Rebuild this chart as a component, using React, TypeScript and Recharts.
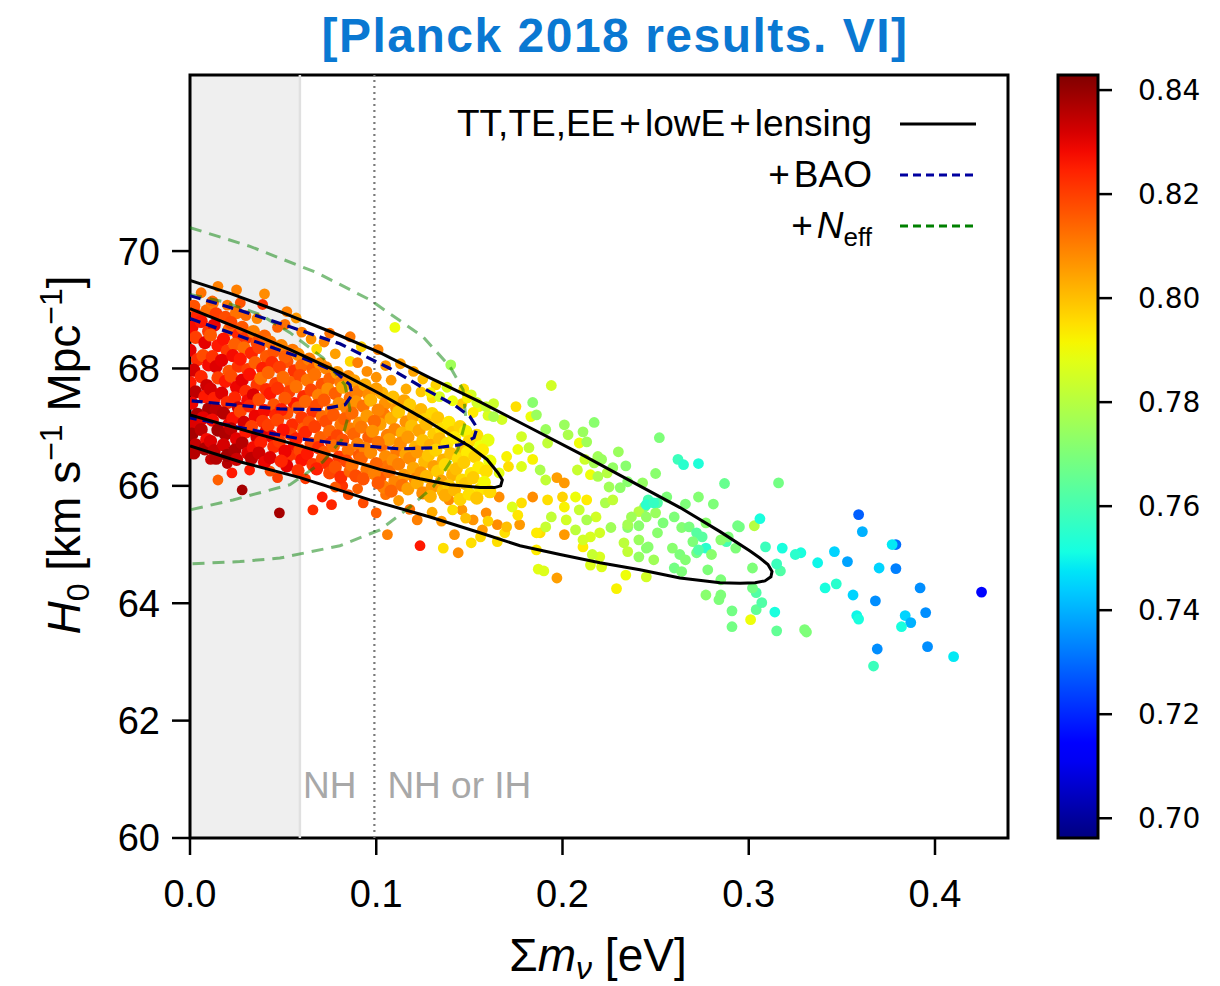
import React from "react";
import { ComposedChart, Scatter, XAxis, YAxis, ReferenceArea, ReferenceLine, Legend } from "recharts";

type Pt = [number, number, number]; // [sum m_nu, H0, sigma8]

const FONT = "'Liberation Sans', Arial, sans-serif";

const xTicks = [0, 0.1, 0.2, 0.3, 0.4];
const yTicks = [60, 62, 64, 66, 68, 70];
const cbTicks = [0.7, 0.72, 0.74, 0.76, 0.78, 0.8, 0.82, 0.84];
const X_MAX = 0.4392;
const S8_MIN = 0.6962;
const S8_MAX = 0.8429;
const nhMin = 0.059;
const ihMin = 0.099;

// samples, coloured by sigma8
const coreLeft: Pt[] = [
  [0.002,69.06,0.817],[0.004,68.9,0.824],[0.001,68.7,0.828],[0.003,68.53,0.82],[0.0,68.31,0.83],[0.004,68.15,0.823],[0.002,67.97,0.832],[0.0,67.76,0.826],[0.003,67.6,0.835],[0.001,67.41,0.829],[0.004,67.22,0.837],[0.002,67.07,0.831],[0.001,66.88,0.838],[0.003,66.7,0.834],[0.002,66.56,0.836],
  [0.009,68.98,0.813],[0.006,68.8,0.826],[0.01,68.63,0.821],[0.008,68.44,0.83],[0.007,68.22,0.818],[0.01,68.06,0.828],[0.006,67.86,0.824],[0.009,67.71,0.833],[0.008,67.52,0.826],[0.01,67.31,0.837],[0.007,67.16,0.83],[0.006,66.96,0.835],[0.009,66.79,0.828],[0.008,66.63,0.837],
  [0.012,69.12,0.811],[0.014,68.93,0.82],[0.013,68.74,0.829],[0.011,68.57,0.816],[0.015,68.39,0.826],[0.012,68.2,0.822],[0.014,68.03,0.831],[0.015,67.84,0.82],[0.011,67.65,0.832],[0.013,67.49,0.825],[0.014,67.3,0.835],[0.012,67.12,0.828],[0.015,66.95,0.838],[0.011,66.76,0.831],[0.013,66.6,0.834],[0.014,66.47,0.836],
  [0.019,68.87,0.818],[0.021,68.66,0.813],[0.018,68.5,0.827],[0.02,68.3,0.821],[0.017,68.14,0.83],[0.021,67.95,0.817],[0.019,67.78,0.826],[0.017,67.58,0.831],[0.02,67.42,0.823],[0.018,67.24,0.836],[0.021,67.05,0.829],[0.019,66.88,0.837],[0.018,66.7,0.832],[0.02,66.52,0.838],
  [0.025,68.95,0.812],[0.022,68.78,0.819],[0.026,68.58,0.824],[0.024,68.41,0.815],[0.023,68.22,0.828],[0.026,68.04,0.822],[0.022,67.87,0.818],[0.025,67.68,0.829],[0.024,67.5,0.824],[0.026,67.33,0.833],[0.023,67.15,0.827],[0.022,66.97,0.835],[0.025,66.8,0.83],[0.024,66.61,0.837],[0.025,66.45,0.833],
  [0.028,68.7,0.816],[0.03,68.52,0.822],[0.029,68.35,0.813],[0.027,68.16,0.826],[0.031,67.98,0.82],[0.028,67.8,0.83],[0.03,67.61,0.823],[0.031,67.45,0.828],[0.027,67.27,0.819],[0.029,67.08,0.832],[0.03,66.92,0.826],[0.028,66.73,0.836],[0.031,66.56,0.831],
  [0.034,68.63,0.81],[0.036,68.44,0.818],[0.033,68.26,0.824],[0.035,68.1,0.815],[0.032,67.9,0.827],[0.036,67.72,0.821],[0.034,67.55,0.831],[0.032,67.36,0.824],[0.035,67.19,0.829],[0.033,67.01,0.82],[0.036,66.83,0.833],[0.034,66.65,0.828],[0.033,66.47,0.835],
  [0.04,68.55,0.814],[0.037,68.36,0.82],[0.041,68.2,0.816],[0.039,68.0,0.825],[0.038,67.83,0.812],[0.041,67.64,0.823],[0.037,67.47,0.818],[0.04,67.28,0.828],[0.039,67.1,0.822],[0.041,66.93,0.831],[0.038,66.74,0.825],[0.037,66.56,0.833],[0.04,66.4,0.829],
  [0.043,68.45,0.812],[0.045,68.29,0.817],[0.044,68.1,0.823],[0.042,67.93,0.814],[0.046,67.74,0.82],[0.043,67.57,0.826],[0.045,67.38,0.817],[0.046,67.2,0.824],[0.042,67.03,0.82],[0.044,66.84,0.829],[0.045,66.67,0.823],[0.043,66.48,0.831],
  [0.049,68.39,0.809],[0.051,68.2,0.815],[0.048,68.02,0.82],[0.05,67.85,0.813],[0.047,67.66,0.822],[0.051,67.49,0.816],[0.049,67.3,0.825],[0.047,67.12,0.819],[0.05,66.95,0.827],[0.048,66.76,0.821],[0.051,66.59,0.829],[0.049,66.42,0.824],
];

const coreMid: Pt[] = [
  [0.055,68.31,0.811],[0.052,68.12,0.817],[0.056,67.96,0.822],[0.054,67.76,0.814],[0.053,67.6,0.82],[0.056,67.4,0.826],[0.052,67.24,0.817],[0.055,67.04,0.823],[0.054,66.88,0.819],[0.056,66.68,0.828],[0.053,66.52,0.822],[0.052,66.34,0.83],
  [0.058,68.24,0.808],[0.06,68.05,0.814],[0.059,67.88,0.819],[0.057,67.69,0.812],[0.061,67.52,0.823],[0.058,67.33,0.816],[0.06,67.16,0.821],[0.061,66.97,0.815],[0.057,66.8,0.825],[0.059,66.61,0.819],[0.06,66.44,0.827],[0.058,66.26,0.822],
  [0.064,68.16,0.81],[0.066,67.99,0.815],[0.063,67.8,0.811],[0.065,67.63,0.819],[0.062,67.44,0.814],[0.066,67.27,0.822],[0.064,67.08,0.817],[0.062,66.91,0.824],[0.065,66.72,0.818],[0.063,66.55,0.826],[0.066,66.36,0.821],
  [0.07,68.08,0.807],[0.067,67.9,0.812],[0.071,67.73,0.817],[0.069,67.54,0.81],[0.068,67.37,0.818],[0.071,67.18,0.813],[0.067,67.01,0.82],[0.07,66.82,0.815],[0.069,66.65,0.823],[0.071,66.46,0.817],[0.068,66.29,0.825],
  [0.073,68.01,0.809],[0.075,67.82,0.814],[0.074,67.65,0.808],[0.072,67.46,0.816],[0.076,67.29,0.811],[0.073,67.1,0.818],[0.075,66.93,0.814],[0.076,66.74,0.821],[0.072,66.57,0.816],[0.074,66.38,0.823],[0.075,66.22,0.819],
  [0.079,67.93,0.806],[0.081,67.76,0.811],[0.078,67.57,0.815],[0.08,67.4,0.808],[0.077,67.21,0.816],[0.081,67.04,0.812],[0.079,66.85,0.819],[0.077,66.68,0.813],[0.08,66.49,0.821],[0.078,66.32,0.817],[0.081,66.15,0.823],
  [0.085,67.86,0.808],[0.082,67.68,0.804],[0.086,67.5,0.812],[0.084,67.33,0.809],[0.083,67.14,0.815],[0.086,66.97,0.81],[0.082,66.78,0.817],[0.085,66.61,0.812],[0.084,66.42,0.819],[0.086,66.25,0.814],
  [0.088,67.79,0.805],[0.09,67.6,0.81],[0.089,67.43,0.807],[0.087,67.24,0.813],[0.091,67.07,0.808],[0.088,66.88,0.814],[0.09,66.71,0.81],[0.091,66.52,0.816],[0.087,66.35,0.812],[0.089,66.17,0.818],
  [0.094,67.72,0.803],[0.096,67.55,0.808],[0.093,67.36,0.812],[0.095,67.19,0.806],[0.092,67.0,0.811],[0.096,66.83,0.815],[0.094,66.64,0.809],[0.092,66.47,0.814],[0.095,66.28,0.811],[0.093,66.12,0.817],
  [0.1,67.65,0.805],[0.097,67.46,0.802],[0.101,67.29,0.809],[0.099,67.1,0.813],[0.098,66.93,0.807],[0.101,66.74,0.812],[0.097,66.57,0.808],[0.1,66.38,0.814],[0.099,66.21,0.81],[0.101,66.05,0.816],
];

const coreRight: Pt[] = [
  [0.103,67.58,0.802],[0.105,67.41,0.807],[0.104,67.22,0.811],[0.102,67.05,0.805],[0.106,66.86,0.81],[0.103,66.69,0.814],[0.105,66.5,0.808],[0.106,66.33,0.812],[0.102,66.14,0.816],[0.104,65.98,0.81],
  [0.109,67.51,0.8],[0.111,67.32,0.806],[0.108,67.15,0.803],[0.11,66.96,0.809],[0.107,66.79,0.805],[0.111,66.6,0.811],[0.109,66.43,0.807],[0.107,66.24,0.813],[0.11,66.07,0.809],[0.108,65.91,0.814],
  [0.115,67.45,0.804],[0.112,67.26,0.799],[0.116,67.09,0.807],[0.114,66.9,0.802],[0.113,66.73,0.808],[0.116,66.54,0.804],[0.112,66.37,0.81],[0.115,66.18,0.806],[0.114,66.01,0.812],
  [0.118,67.38,0.798],[0.12,67.19,0.803],[0.119,67.02,0.8],[0.117,66.83,0.806],[0.121,66.66,0.802],[0.118,66.47,0.808],[0.12,66.3,0.804],[0.121,66.11,0.809],[0.117,65.95,0.805],
  [0.124,67.3,0.801],[0.126,67.13,0.797],[0.123,66.94,0.804],[0.125,66.77,0.8],[0.122,66.58,0.806],[0.126,66.41,0.801],[0.124,66.22,0.807],[0.122,66.05,0.803],[0.125,65.88,0.808],
  [0.13,67.23,0.796],[0.127,67.05,0.801],[0.131,66.88,0.798],[0.129,66.69,0.803],[0.128,66.52,0.799],[0.131,66.33,0.805],[0.127,66.16,0.801],[0.13,65.98,0.806],[0.129,65.82,0.802],
  [0.133,67.16,0.799],[0.135,66.97,0.795],[0.134,66.8,0.801],[0.132,66.61,0.797],[0.136,66.44,0.802],[0.133,66.25,0.798],[0.135,66.08,0.804],[0.136,65.91,0.8],
  [0.139,67.08,0.794],[0.141,66.91,0.798],[0.138,66.72,0.795],[0.14,66.55,0.8],[0.137,66.36,0.796],[0.141,66.19,0.802],[0.139,66.0,0.798],[0.137,65.84,0.803],
  [0.145,67.01,0.797],[0.142,66.82,0.793],[0.146,66.65,0.799],[0.144,66.46,0.795],[0.143,66.29,0.8],[0.146,66.1,0.796],[0.142,65.93,0.801],[0.145,65.77,0.797],
  [0.148,66.93,0.792],[0.15,66.76,0.796],[0.149,66.57,0.793],[0.147,66.4,0.798],[0.151,66.21,0.794],[0.148,66.04,0.799],[0.15,65.86,0.795],
  [0.154,66.86,0.795],[0.156,66.67,0.79],[0.153,66.5,0.797],[0.155,66.31,0.793],[0.152,66.14,0.798],[0.156,65.95,0.794],[0.154,65.79,0.799],
  [0.16,66.78,0.789],[0.157,66.61,0.793],[0.161,66.42,0.79],[0.159,66.25,0.795],[0.158,66.06,0.791],[0.161,65.9,0.796],
];

const upperBand: Pt[] = [
  [0.006,69.29,0.812],[0.025,69.34,0.81],[0.04,69.27,0.808],[0.039,69.09,0.822],[0.012,69.15,0.814],[0.02,69.08,0.811],[0.027,69.12,0.817],[0.03,68.9,0.813],[0.036,68.85,0.809],[0.052,68.97,0.81],
  [0.057,68.86,0.806],[0.051,68.75,0.812],[0.06,68.62,0.81],[0.047,68.7,0.815],[0.065,68.5,0.807],[0.068,68.33,0.796],[0.072,68.45,0.809],[0.078,68.25,0.805],[0.086,68.54,0.811],[0.092,68.37,0.797],
  [0.086,68.12,0.796],[0.101,68.32,0.809],[0.11,68.7,0.79],[0.105,68.05,0.806],[0.113,68.08,0.805],[0.12,67.95,0.804],[0.125,67.82,0.8],[0.14,68.06,0.776],[0.132,67.72,0.797],[0.138,67.68,0.787],
  [0.147,67.65,0.795],[0.151,67.55,0.785],[0.146,67.4,0.798],[0.155,67.35,0.79],[0.16,67.2,0.786],[0.163,67.4,0.784],[0.075,68.6,0.812],[0.015,69.4,0.81],[0.108,67.8,0.806],[0.116,67.65,0.803],
  [0.124,67.6,0.799],[0.13,67.5,0.795],[0.141,67.45,0.79],[0.1,67.85,0.807],[0.095,67.95,0.808],[0.09,68.1,0.81],[0.149,67.5,0.792],[0.154,67.42,0.785],[0.152,67.25,0.793],[0.134,67.52,0.786],
  [0.129,67.59,0.792],[0.159,67.35,0.783],[0.163,67.18,0.778],
];

const lowerScatter: Pt[] = [
  [0.015,66.1,0.815],[0.028,65.93,0.838],[0.048,65.54,0.838],[0.0225,66.22,0.826],[0.032,66.27,0.826],[0.047,66.14,0.82],[0.057,66.53,0.82],[0.066,65.59,0.823],[0.071,65.81,0.826],[0.076,65.68,0.824],
  [0.082,66.0,0.822],[0.09,65.95,0.815],[0.093,65.71,0.818],[0.1,65.54,0.815],[0.106,65.17,0.81],[0.122,65.42,0.81],[0.1235,64.98,0.826],[0.136,64.94,0.795],[0.144,64.86,0.808],[0.151,65.03,0.795],
  [0.142,65.17,0.807],[0.156,65.13,0.796],[0.165,65.05,0.795],[0.186,65.2,0.793],[0.187,64.58,0.788],[0.19,64.55,0.787],[0.197,64.43,0.805],[0.011,66.45,0.834],[0.02,66.38,0.836],[0.043,66.25,0.818],
  [0.062,66.12,0.821],[0.078,65.98,0.816],[0.112,65.75,0.806],[0.118,65.6,0.812],[0.13,65.55,0.803],[0.135,65.4,0.806],[0.148,65.45,0.8],[0.16,65.4,0.797],[0.17,65.3,0.8],[0.176,65.5,0.794],
  [0.105,65.85,0.812],[0.085,65.85,0.818],
];

const yellowBand: Pt[] = [
  [0.1675,67.13,0.785],[0.175,67.35,0.795],[0.178,66.84,0.785],[0.183,67.18,0.79],[0.184,67.42,0.772],[0.186,67.21,0.775],[0.191,66.96,0.775],[0.192,66.73,0.782],[0.194,67.71,0.785],[0.182,66.65,0.782],
  [0.176,66.62,0.79],[0.17,66.5,0.792],[0.166,66.22,0.788],[0.171,66.33,0.795],[0.178,66.33,0.787],[0.184,66.45,0.792],[0.188,66.27,0.778],[0.191,66.1,0.782],[0.197,66.14,0.805],[0.201,66.05,0.806],
  [0.2,65.81,0.797],[0.192,65.76,0.795],[0.184,65.81,0.808],[0.178,65.71,0.795],[0.173,65.64,0.787],[0.166,65.81,0.808],[0.159,65.54,0.808],[0.152,65.42,0.807],[0.146,65.59,0.806],[0.141,65.59,0.795],
  [0.139,65.76,0.808],[0.157,65.25,0.806],[0.165,65.34,0.808],[0.177,65.34,0.806],[0.169,65.2,0.795],[0.188,65.2,0.795],[0.201,65.17,0.806],[0.186,64.91,0.793],[0.211,64.96,0.793],[0.215,65.13,0.786],
  [0.201,67.04,0.775],[0.211,66.92,0.775],[0.217,67.08,0.772],[0.203,66.87,0.778],[0.209,66.73,0.79],[0.213,66.75,0.776],[0.212,66.45,0.784],[0.217,66.39,0.777],[0.208,66.27,0.783],[0.215,66.19,0.79],
  [0.219,66.5,0.776],[0.221,66.45,0.775],[0.227,66.31,0.774],[0.231,65.97,0.773],[0.225,65.98,0.776],[0.23,66.58,0.775],[0.234,66.34,0.772],[0.219,66.16,0.778],[0.224,66.22,0.78],[0.235,66.07,0.772],
  [0.207,65.81,0.79],[0.213,65.76,0.793],[0.218,65.47,0.785],[0.223,65.71,0.778],[0.227,65.76,0.782],[0.209,65.59,0.783],[0.201,65.64,0.792],[0.213,65.42,0.778],[0.202,65.42,0.785],[0.194,65.47,0.782],
  [0.191,65.3,0.783],[0.207,65.25,0.781],[0.211,65.08,0.785],[0.22,65.2,0.785],[0.226,65.29,0.776],[0.235,65.34,0.777],[0.233,65.03,0.781],[0.241,65.08,0.775],[0.246,64.96,0.772],[0.235,64.88,0.782],
  [0.245,64.45,0.785],[0.234,64.48,0.79],[0.229,64.25,0.792],[0.221,64.62,0.787],[0.22,64.79,0.786],[0.216,64.83,0.783],[0.215,64.65,0.787],
];

const greenBand: Pt[] = [
  [0.25,66.21,0.772],[0.252,66.82,0.77],[0.243,66.05,0.774],[0.246,65.76,0.76],[0.251,65.71,0.762],[0.256,65.81,0.77],[0.244,65.64,0.77],[0.241,65.56,0.78],[0.237,65.47,0.776],[0.235,65.29,0.772],
  [0.241,65.32,0.772],[0.245,65.47,0.774],[0.25,65.54,0.775],[0.254,65.37,0.77],[0.251,65.2,0.772],[0.26,65.47,0.77],[0.264,65.29,0.771],[0.268,65.3,0.769],[0.272,65.2,0.763],[0.27,65.05,0.77],
  [0.275,65.13,0.763],[0.277,64.94,0.755],[0.272,64.86,0.768],[0.28,64.83,0.772],[0.278,64.57,0.77],[0.285,64.4,0.77],[0.259,64.94,0.772],[0.263,64.83,0.77],[0.266,64.74,0.771],[0.26,64.6,0.768],
  [0.264,64.54,0.77],[0.273,64.91,0.762],[0.288,65.05,0.76],[0.289,65.13,0.77],[0.295,65.3,0.768],[0.293,64.94,0.77],[0.285,65.08,0.772],[0.277,65.37,0.772],[0.281,65.69,0.77],[0.273,65.81,0.771],
  [0.273,66.38,0.753],[0.262,66.45,0.758],[0.265,66.36,0.755],[0.266,65.69,0.77],[0.245,65.68,0.755],[0.249,65.71,0.757],[0.287,66.04,0.766],[0.316,66.05,0.768],[0.294,65.32,0.768],[0.303,65.32,0.78],
  [0.306,65.44,0.752],[0.302,64.6,0.77],[0.245,64.94,0.772],[0.241,64.79,0.774],[0.249,64.74,0.776],
];

const cyanTail: Pt[] = [
  [0.425,64.19,0.715],[0.359,65.51,0.728],[0.361,65.22,0.74],[0.379,65.0,0.73],[0.377,65.0,0.748],[0.37,64.6,0.745],[0.379,64.59,0.733],[0.346,64.88,0.745],[0.353,64.71,0.738],[0.337,64.69,0.75],
  [0.328,64.86,0.752],[0.325,64.83,0.755],[0.318,64.94,0.752],[0.309,64.96,0.758],[0.341,64.26,0.752],[0.347,64.33,0.755],[0.356,64.14,0.745],[0.368,64.04,0.735],[0.392,64.26,0.735],[0.395,63.84,0.735],
  [0.384,63.79,0.745],[0.387,63.67,0.74],[0.382,63.6,0.752],[0.358,63.79,0.75],[0.359,63.73,0.752],[0.369,63.22,0.735],[0.396,63.26,0.735],[0.41,63.09,0.748],[0.367,62.93,0.758],[0.315,63.53,0.765],
  [0.33,63.55,0.77],[0.331,63.51,0.77],[0.314,63.85,0.752],[0.304,63.89,0.765],[0.307,64.01,0.762],[0.304,64.18,0.762],[0.302,64.26,0.768],[0.291,63.87,0.768],[0.291,63.6,0.768],[0.301,63.72,0.79],
  [0.285,64.14,0.77],[0.277,64.14,0.772],[0.284,64.06,0.77],[0.317,64.55,0.762],[0.315,64.67,0.758],
];

// contour outlines [sum m_nu, H0]
const ttOuter = [
  [0,69.5],[0.0215,69.28],[0.0483,68.97],[0.0752,68.63],[0.102,68.27],[0.1289,67.84],[0.1557,67.43],[0.1826,66.99],[0.2094,66.55],[0.2362,66.09],
  [0.2631,65.63],[0.2846,65.22],[0.3007,64.89],[0.306,64.77],[0.3103,64.66],[0.3125,64.54],[0.3119,64.45],[0.3087,64.38],[0.3034,64.35],[0.2953,64.34],
  [0.2846,64.35],[0.2631,64.43],[0.2416,64.57],[0.2201,64.69],[0.1987,64.83],[0.1772,64.98],[0.1557,65.2],[0.1289,65.47],[0.0966,65.76],[0.0591,66.14],[0.0268,66.41],[0,66.68],
];
const ttInner = [
  [0,69.02],[0.0268,68.68],[0.0537,68.32],[0.0805,67.93],[0.102,67.57],[0.1235,67.18],[0.1396,66.87],[0.1503,66.67],[0.1595,66.45],[0.1654,66.22],
  [0.1677,66.1],[0.1668,66.0],[0.1635,65.97],[0.1557,65.97],[0.1396,66.02],[0.1235,66.12],[0.102,66.28],[0.0805,66.48],[0.0591,66.68],[0.0322,66.92],[0,67.21],
];
const baoOuter = [
  [0,69.24],[0.0268,68.99],[0.0537,68.71],[0.0805,68.42],[0.1074,68.0],[0.1289,67.6],[0.1423,67.37],[0.1503,67.18],[0.1541,66.99],[0.1525,66.82],
  [0.145,66.7],[0.1326,66.65],[0.1128,66.63],[0.0859,66.7],[0.0591,66.8],[0.0322,66.96],[0,67.16],
];
const baoInner = [
  [0,68.85],[0.0322,68.49],[0.0628,68.15],[0.0778,67.95],[0.0859,67.72],[0.087,67.55],[0.0832,67.38],[0.0698,67.3],[0.0483,67.31],[0.0268,67.37],[0,67.45],
];
const neffOuter = [
  [0,70.4],[0.0322,70.08],[0.0682,69.63],[0.0966,69.17],[0.1251,68.54],[0.1396,68.03],[0.1466,67.64],[0.1482,67.13],[0.1439,66.62],[0.1369,66.27],
  [0.1305,65.98],[0.1181,65.64],[0.102,65.25],[0.0805,64.98],[0.0483,64.77],[0.0268,64.71],[0,64.67],
];
const neffInner = [
  [0,69.26],[0.0177,69.14],[0.0376,68.92],[0.0537,68.61],[0.0714,68.18],[0.0832,67.72],[0.0859,67.3],[0.0816,66.79],[0.0714,66.41],[0.0537,66.02],[0.0231,65.76],[0,65.59],
];

// matplotlib "jet"
const JET: Record<string, number[][]> = {
  r: [[0, 0], [0.35, 0], [0.66, 1], [0.89, 1], [1, 0.5]],
  g: [[0, 0], [0.125, 0], [0.375, 1], [0.64, 1], [0.91, 0], [1, 0]],
  b: [[0, 0.5], [0.11, 1], [0.34, 1], [0.65, 0], [1, 0]],
};
const seg = (pts: number[][], t: number) => {
  for (let i = 1; i < pts.length; i++) {
    if (t <= pts[i][0]) {
      const [x0, y0] = pts[i - 1];
      const [x1, y1] = pts[i];
      return y0 + ((y1 - y0) * (t - x0)) / (x1 - x0);
    }
  }
  return pts[pts.length - 1][1];
};
const jet = (t: number) => {
  const u = Math.max(0, Math.min(1, t));
  const c = (v: number) => Math.round(v * 255);
  return `rgb(${c(seg(JET.r, u))},${c(seg(JET.g, u))},${c(seg(JET.b, u))})`;
};
const s8Color = (s: number) => jet((s - S8_MIN) / (S8_MAX - S8_MIN));

const toPts = (arr: Pt[]) => arr.map(([x, y, c]) => ({ x, y, c }));
const toLine = (arr: number[][]) => arr.map(([x, y]) => ({ x, y }));

const makeDot = (r: number) => (p: any) => {
  const c = p.payload ? p.payload.c : p.c;
  return <circle cx={p.cx} cy={p.cy} r={r} fill={s8Color(c)} />;
};
const Dot = makeDot(5.4);
const CoreDot = makeDot(6.6); // the dense core overlaps heavily in the original
const NoShape = () => <g />;

const renderXLabel = () => (
  <text x={598} y={971} textAnchor="middle" fontFamily={FONT} fontSize={46} fill="#000">
    Σ<tspan fontStyle="italic">m</tspan>
    <tspan fontStyle="italic" fontSize={32} dy={8}>ν</tspan>
    <tspan dy={-8}>{" [eV]"}</tspan>
  </text>
);

const renderYLabel = () => (
  <text transform="translate(80,455) rotate(-90)" textAnchor="middle" fontFamily={FONT} fontSize={46} fill="#000">
    <tspan fontStyle="italic">H</tspan>
    <tspan fontSize={32} dy={9}>0</tspan>
    <tspan dy={-9}>{" [km s"}</tspan>
    <tspan fontSize={32} dy={-18}>−1</tspan>
    <tspan dy={18}>{" Mpc"}</tspan>
    <tspan fontSize={32} dy={-18}>−1</tspan>
    <tspan dy={18}>]</tspan>
  </text>
);

const renderNH = (props: any) => {
  const vb = props && props.viewBox ? props.viewBox : { x: 374 };
  const x = vb.x;
  return (
    <g fontFamily={FONT} fontSize={37} fill="#a8a8a8">
      <text x={x - 18} y={798} textAnchor="end">NH</text>
      <text x={x + 13} y={798}>NH or IH</text>
    </g>
  );
};

const Plus = () => <span style={{ margin: "0 4px" }}>+</span>;

const legendRows = [
  { label: <span>TT,TE,EE<Plus />lowE<Plus />lensing</span>, stroke: "#000", dash: undefined },
  { label: <span><Plus />BAO</span>, stroke: "#0000a0", dash: "8 5" },
  { label: <span><Plus /><i>N</i><span style={{ fontSize: 26, position: "relative", top: 8 }}>eff</span></span>, stroke: "#008000", dash: "8 5" },
];

const renderLegend = () => (
  <div style={{ fontFamily: FONT, fontSize: 37, color: "#000" }}>
    {legendRows.map((r, i) => (
      <div key={i} style={{ display: "flex", justifyContent: "flex-end", alignItems: "center", height: 51 }}>
        <span style={{ lineHeight: 1 }}>{r.label}</span>
        <svg width={76} height={10} style={{ marginLeft: 28 }}>
          <line x1={0} x2={76} y1={5} y2={5} stroke={r.stroke} strokeWidth={3} strokeDasharray={r.dash} />
        </svg>
      </div>
    ))}
  </div>
);

const gradStops = Array.from({ length: 41 }, (_, i) => i / 40);
const cbAnchor = cbTicks.map((v) => ({ x: 0.5, y: v }));

export default function App() {
  return (
    <div style={{ position: "absolute", left: 0, top: 0, width: 1220, height: 986, background: "#fff" }}>
      <div
        style={{
          position: "absolute", left: 5, top: 12, width: 1220, textAlign: "center",
          fontFamily: FONT, fontWeight: "bold", fontSize: 48, lineHeight: "48px",
          letterSpacing: 1.5, color: "#0a78d2",
        }}
      >
        [Planck 2018 results. VI]
      </div>

      <div style={{ position: "absolute", left: 0, top: 0 }}>
        <ComposedChart width={1220} height={986} margin={{ top: 75, right: 212, bottom: 88, left: 90 }}>
          <XAxis
            type="number" dataKey="x" domain={[0, X_MAX]} ticks={xTicks} allowDataOverflow
            tickFormatter={(v: number) => v.toFixed(1)} height={60} axisLine={false}
            tickSize={17} tickMargin={25} tickLine={{ stroke: "#000", strokeWidth: 2.5 }}
            tick={{ fill: "#000", fontSize: 38, fontFamily: FONT }}
            label={{ content: renderXLabel }}
          />
          <YAxis
            type="number" dataKey="y" domain={[60, 73]} ticks={yTicks} allowDataOverflow
            width={100} axisLine={false} tickSize={18} tickMargin={12}
            tickLine={{ stroke: "#000", strokeWidth: 2.5 }}
            tick={{ fill: "#000", fontSize: 38, fontFamily: FONT }}
            label={{ content: renderYLabel }}
          />
          <ReferenceArea x1={0} x2={nhMin} y1={60} y2={73} fill="#efefef" fillOpacity={1} stroke="none" />
          <ReferenceLine x={nhMin} stroke="#e0e0e0" strokeWidth={2.5} />
          <ReferenceLine x={ihMin} stroke="#7a7a7a" strokeWidth={2.2} strokeDasharray="2 4" label={renderNH} />

          <Scatter data={toPts(cyanTail)} shape={Dot} isAnimationActive={false} />
          <Scatter data={toPts(greenBand)} shape={Dot} isAnimationActive={false} />
          <Scatter data={toPts(yellowBand)} shape={Dot} isAnimationActive={false} />
          <Scatter data={toPts(lowerScatter)} shape={Dot} isAnimationActive={false} />
          <Scatter data={toPts(coreRight)} shape={CoreDot} isAnimationActive={false} />
          <Scatter data={toPts(coreMid)} shape={CoreDot} isAnimationActive={false} />
          <Scatter data={toPts(coreLeft)} shape={CoreDot} isAnimationActive={false} />
          <Scatter data={toPts(upperBand)} shape={Dot} isAnimationActive={false} />

          <Scatter data={toLine(neffOuter)} shape={NoShape} lineType="joint" isAnimationActive={false}
            line={{ stroke: "#008000", strokeOpacity: 0.5, strokeWidth: 3, strokeDasharray: "12 8" }} />
          <Scatter data={toLine(neffInner)} shape={NoShape} lineType="joint" isAnimationActive={false}
            line={{ stroke: "#008000", strokeOpacity: 0.5, strokeWidth: 3, strokeDasharray: "12 8" }} />
          <Scatter data={toLine(baoOuter)} shape={NoShape} lineType="joint" isAnimationActive={false}
            line={{ stroke: "#00008b", strokeWidth: 3.2, strokeDasharray: "11 6" }} />
          <Scatter data={toLine(baoInner)} shape={NoShape} lineType="joint" isAnimationActive={false}
            line={{ stroke: "#00008b", strokeWidth: 3.2, strokeDasharray: "11 6" }} />
          <Scatter data={toLine(ttOuter)} shape={NoShape} lineType="joint" isAnimationActive={false}
            line={{ stroke: "#000", strokeWidth: 3 }} />
          <Scatter data={toLine(ttInner)} shape={NoShape} lineType="joint" isAnimationActive={false}
            line={{ stroke: "#000", strokeWidth: 3 }} />

          <ReferenceArea x1={0} x2={X_MAX} y1={60} y2={73} fill="none" stroke="#000" strokeWidth={3} />
          <Legend
            content={renderLegend} layout="horizontal" verticalAlign="middle" align="center"
            wrapperStyle={{ left: 400, top: 98, width: 576 }}
          />
        </ComposedChart>
      </div>

      <div style={{ position: "absolute", left: 1000, top: 0 }}>
        <ComposedChart width={220} height={986} margin={{ top: 75, right: 0, bottom: 148, left: 58 }}>
          <defs>
            <linearGradient id="cbJet" x1="0" y1="0" x2="0" y2="1">
              {gradStops.map((t) => (
                <stop key={t} offset={`${t * 100}%`} stopColor={jet(1 - t)} />
              ))}
            </linearGradient>
          </defs>
          <XAxis type="number" dataKey="x" domain={[0, 1]} allowDataOverflow hide />
          <YAxis
            type="number" dataKey="y" orientation="right" domain={[S8_MIN, S8_MAX]} ticks={cbTicks}
            allowDataOverflow width={122} axisLine={false} tickSize={14} tickMargin={26}
            tickFormatter={(v: number) => v.toFixed(2)}
            tickLine={{ stroke: "#000", strokeWidth: 2.5 }}
            tick={{ fill: "#000", fontSize: 28, fontFamily: "'DejaVu Sans', sans-serif" }}
          />
          <Scatter data={cbAnchor} shape={NoShape} isAnimationActive={false} />
          <ReferenceArea x1={0} x2={1} y1={S8_MIN} y2={S8_MAX} fill="url(#cbJet)" fillOpacity={1} stroke="#000" strokeWidth={3} />
        </ComposedChart>
      </div>
    </div>
  );
}
